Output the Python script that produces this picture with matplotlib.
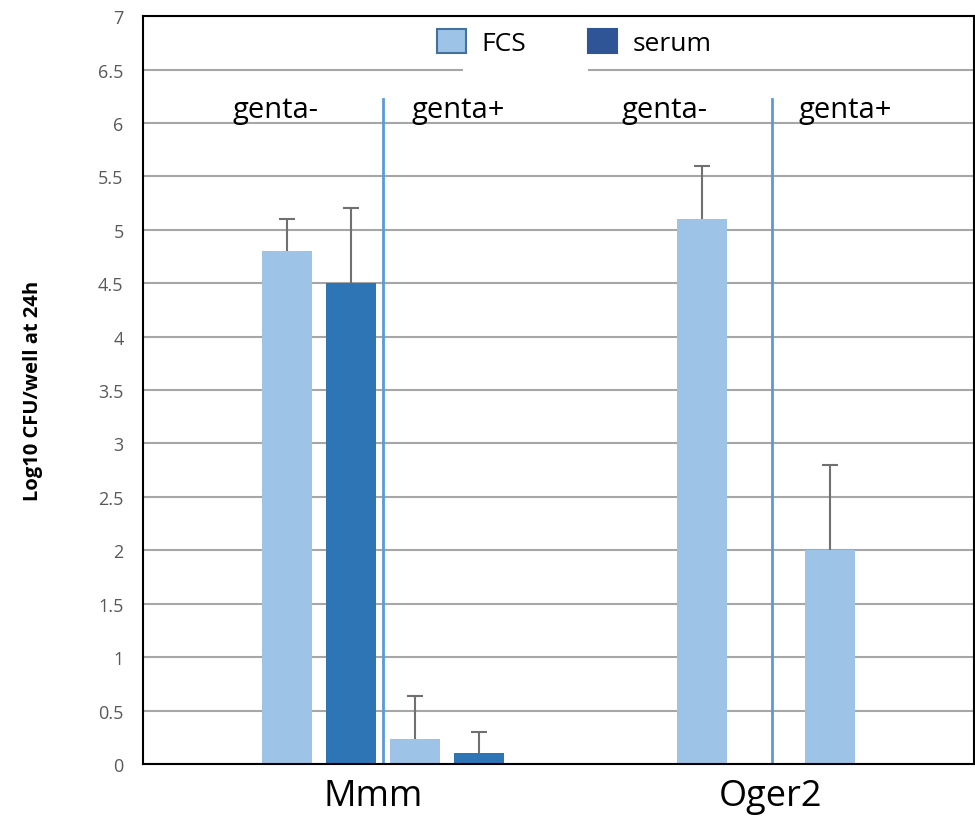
import numpy as np
import matplotlib.pyplot as plt
from matplotlib.patches import Patch, Rectangle

# data
groups = ["Mmm", "Oger2"]
fcs_minus = [4.8, 5.1]
fcs_minus_err = [0.3, 0.5]
serum_minus = [4.5, np.nan]
serum_minus_err = [0.7, 0]
fcs_plus = [0.23, 2.0]
fcs_plus_err = [0.41, 0.8]
serum_plus = [0.1, np.nan]
serum_plus_err = [0.2, 0]

light = '#9dc3e6'
dark = '#2e75b6'
x = np.arange(len(groups))
w = 0.12

plt.rcParams['font.family'] = ['Open Sans', 'DejaVu Sans']
fig = plt.figure(figsize=(9.75, 8.2), dpi=100)
ax = fig.add_axes([0.1467, 0.0671, 0.8523, 0.912])

series = [
    (fcs_minus, fcs_minus_err, light, -0.154),
    (serum_minus, serum_minus_err, dark, 0.0),
    (fcs_plus, fcs_plus_err, light, 0.154),
    (serum_plus, serum_plus_err, dark, 0.308),
]
for vals, errs, col, off in series:
    v = np.array(vals, dtype=float)
    e = np.array(errs, dtype=float)
    ax.bar(x + off, v, width=w, color=col, zorder=3)
    ok = ~np.isnan(v)
    eb = ax.errorbar(x[ok] + off, v[ok], yerr=[np.zeros(ok.sum()), e[ok]],
                     fmt='none', ecolor='#707070', elinewidth=1.5, capsize=6,
                     capthick=1.5, zorder=4)
    # only the upper cap is drawn in the original
    eb[1][0].set_visible(False)

# separators between genta- / genta+
for xd in [0.078, 1.014]:
    ax.plot([xd, xd], [0, 6.22], color='#5b9bd5', lw=2, zorder=5)

for xt, t in zip([-0.182, 0.258, 0.754, 1.19], ['genta-', 'genta+', 'genta-', 'genta+']):
    ax.text(xt, 6.13, t, ha='center', va='center', fontsize=21, zorder=6)

ax.set_xlim(-0.5, 1.5)
ax.set_ylim(0, 7)
ax.set_yticks(np.arange(0, 7.01, 0.5))
ax.set_yticklabels([f'{v:g}' for v in np.arange(0, 7.01, 0.5)])
ax.tick_params(axis='y', length=0, pad=14, labelsize=13, labelcolor='#595959')
ax.set_xticks([0.054, 1.009])
ax.set_xticklabels(groups, fontsize=26)
ax.tick_params(axis='x', length=0, pad=10)
ax.yaxis.grid(True, color='#a6a6a6', lw=1.5, zorder=0)
ax.set_axisbelow(True)
for s in ax.spines.values():
    s.set_color('black')
    s.set_linewidth(1.5)
    s.set_zorder(6)

ax.set_ylabel('Log10 CFU/well at 24h', fontsize=14.5, fontweight='bold', labelpad=40)

# white box of the legend that hides part of the top gridline
ax.add_patch(Rectangle((0.385, 0.915), 0.15, 0.03, transform=ax.transAxes,
                       facecolor='white', edgecolor='none', zorder=2))

handles = [Patch(facecolor=light, edgecolor='#41719c', lw=1.5, label='FCS'),
           Patch(facecolor='#2f5597', edgecolor='#2f5597', lw=1.5, label='serum')]
ax.legend(handles=handles, loc='center', bbox_to_anchor=(0.519, 0.965), ncol=2,
          frameon=False, fontsize=19, handlelength=1.1, handleheight=1.05,
          handletextpad=0.6, columnspacing=2.35)

plt.savefig('out.png', dpi=100)
